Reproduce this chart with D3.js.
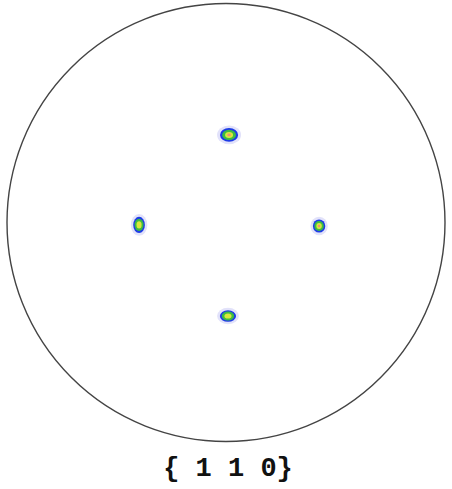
<!DOCTYPE html>
<html><head><meta charset="utf-8">
<script src="https://cdn.jsdelivr.net/npm/d3@7"></script>
<style>body{margin:0;background:#fff}svg{display:block}</style>
</head><body>
<script>
// Pole figure {110}: spot centres in projection coordinates (unit circle, y up)
const spotNames = ["top", "left", "right", "bottom"];
const spotX = [0.014, -0.397, 0.425, 0.009];
const spotY = [0.400, -0.011, -0.016, -0.427];
// half-widths of the outermost contour (projection units)
const spotRx = [0.048, 0.031, 0.033, 0.043];
const spotRy = [0.036, 0.043, 0.035, 0.031];
// peak intensity level reached by each spot (index into levels)
const spotPeak = [4, 3, 4, 3];
const levels = [1, 2, 3, 4, 5];
const levelColors = ["#e2e2fa", "#1d3be6", "#3cbb45", "#d9e83a", "#f0907a"];
const levelScale = [1.0, 0.86, 0.66, 0.38, 0.17];
const title = "{ 1 1 0}";

const W = 452, H = 489;
const cx = 226, cy = 222.5, R = 219;
const x = d3.scaleLinear().domain([-1, 1]).range([cx - R, cx + R]);
const y = d3.scaleLinear().domain([-1, 1]).range([cy + R, cy - R]);
const rs = d3.scaleLinear().domain([0, 1]).range([0, R]);

const svg = d3.select("body").append("svg").attr("width", W).attr("height", H);
const defs = svg.append("defs");
defs.append("filter").attr("id", "soft").append("feGaussianBlur").attr("stdDeviation", 0.6);

svg.append("circle").attr("cx", x(0)).attr("cy", y(0)).attr("r", rs(1))
  .attr("fill", "none").attr("stroke", "#444").attr("stroke-width", 1.4);

const spots = spotNames.map((n, i) => ({n, x: spotX[i], y: spotY[i], rx: spotRx[i], ry: spotRy[i], peak: spotPeak[i]}));
const g = svg.append("g").attr("filter", "url(#soft)");
spots.forEach(s => {
  levels.forEach((lv, k) => {
    if (k > s.peak) return;
    g.append("ellipse")
      .attr("cx", x(s.x)).attr("cy", y(s.y))
      .attr("rx", rs(s.rx * levelScale[k]) + (k === 0 ? 1.5 : 0))
      .attr("ry", rs(s.ry * levelScale[k]) + (k === 0 ? 1.5 : 0))
      .attr("fill", levelColors[k]);
  });
});

svg.append("text").attr("x", cx + 2).attr("y", 476).attr("text-anchor", "middle")
  .attr("font-family", "Liberation Mono, DejaVu Sans Mono, monospace").attr("font-weight", "bold")
  .attr("font-size", 27).attr("fill", "#111").text(title);
</script>
</body></html>
